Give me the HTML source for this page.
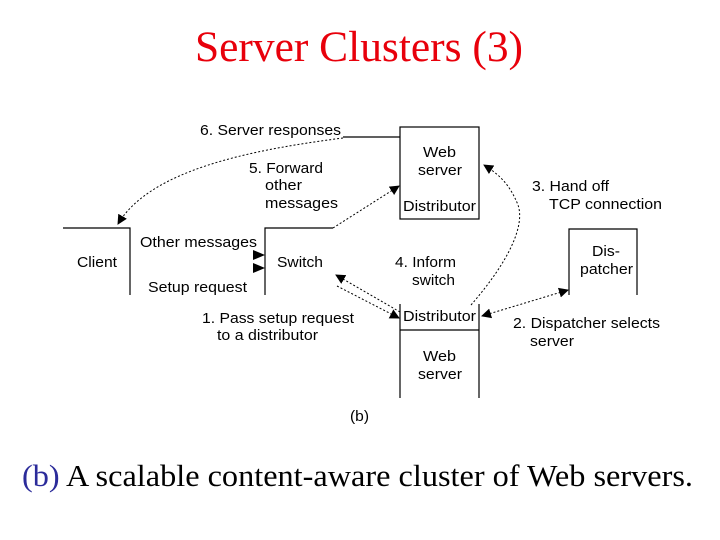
<!DOCTYPE html>
<html><head><style>
body{margin:0;background:#fff;}
svg{display:block}
</style></head><body>
<svg width="720" height="540" xmlns="http://www.w3.org/2000/svg">
<defs>
<marker id="a" markerWidth="10" markerHeight="10" refX="9" refY="5" orient="auto" markerUnits="userSpaceOnUse"><path d="M0,0 L10,5 L0,10 z" fill="#000"/></marker>
<marker id="b" markerWidth="10" markerHeight="10" refX="1" refY="5" orient="auto" markerUnits="userSpaceOnUse"><path d="M10,0 L0,5 L10,10 z" fill="#000"/></marker>
</defs>
<text x="195" y="61" textLength="328" lengthAdjust="spacingAndGlyphs" font-family="Liberation Serif" font-size="43" fill="#e8000b">Server Clusters (3)</text>
<g font-family="Liberation Sans" font-size="15" fill="#000">
<text x="200" y="135" textLength="141" lengthAdjust="spacingAndGlyphs">6. Server responses</text>
<text x="249" y="173" textLength="74" lengthAdjust="spacingAndGlyphs">5. Forward</text>
<text x="265" y="190" textLength="37" lengthAdjust="spacingAndGlyphs">other</text>
<text x="265" y="208" textLength="73" lengthAdjust="spacingAndGlyphs">messages</text>
<text x="140" y="247" textLength="117" lengthAdjust="spacingAndGlyphs">Other messages</text>
<text x="77" y="267" textLength="40" lengthAdjust="spacingAndGlyphs">Client</text>
<text x="277" y="267" textLength="46" lengthAdjust="spacingAndGlyphs">Switch</text>
<text x="148" y="292" textLength="99" lengthAdjust="spacingAndGlyphs">Setup request</text>
<text x="202" y="323" textLength="152" lengthAdjust="spacingAndGlyphs">1. Pass setup request</text>
<text x="217" y="340" textLength="101" lengthAdjust="spacingAndGlyphs">to a distributor</text>
<text x="423" y="157" textLength="33" lengthAdjust="spacingAndGlyphs">Web</text>
<text x="418" y="175" textLength="44" lengthAdjust="spacingAndGlyphs">server</text>
<text x="403" y="211" textLength="73" lengthAdjust="spacingAndGlyphs">Distributor</text>
<text x="532" y="191" textLength="77" lengthAdjust="spacingAndGlyphs">3. Hand off</text>
<text x="549" y="209" textLength="113" lengthAdjust="spacingAndGlyphs">TCP connection</text>
<text x="592" y="256" textLength="28" lengthAdjust="spacingAndGlyphs">Dis-</text>
<text x="580" y="274" textLength="53" lengthAdjust="spacingAndGlyphs">patcher</text>
<text x="395" y="267" textLength="61" lengthAdjust="spacingAndGlyphs">4. Inform</text>
<text x="412" y="285" textLength="43" lengthAdjust="spacingAndGlyphs">switch</text>
<text x="403" y="321" textLength="73" lengthAdjust="spacingAndGlyphs">Distributor</text>
<text x="513" y="328" textLength="147" lengthAdjust="spacingAndGlyphs">2. Dispatcher selects</text>
<text x="530" y="346" textLength="44" lengthAdjust="spacingAndGlyphs">server</text>
<text x="423" y="361" textLength="33" lengthAdjust="spacingAndGlyphs">Web</text>
<text x="418" y="379" textLength="44" lengthAdjust="spacingAndGlyphs">server</text>
<text x="350" y="421" textLength="19" lengthAdjust="spacingAndGlyphs">(b)</text>
</g>
<g stroke="#000" stroke-width="1.2" fill="none">
<path d="M63,228 H130 V295"/>
<path d="M333,228 H265 V295"/>
<rect x="400" y="127" width="79" height="92"/>
<path d="M343,137 H400"/>
<path d="M569,295 V229 H637 V295"/>
<path d="M400,304 V398 M479,304 V398 M400,330 H479"/>
</g>
<g stroke="#000" stroke-width="1" fill="none" stroke-dasharray="2,2">
<path d="M343,138 C250,150 150,170 118,224" marker-end="url(#a)"/>
<path d="M333,228 L399,186" marker-end="url(#a)"/>
<path d="M400,312 L336,275" marker-end="url(#a)"/>
<path d="M337,286 L399,318" marker-end="url(#a)"/>
<path d="M482,316 L568,290" marker-end="url(#a)" marker-start="url(#b)"/>
<path d="M471,305 C510,260 525,225 518,205 C510,185 500,175 484,165" marker-end="url(#a)"/>
</g>
<path d="M253,250 L265,255 L253,260 z M253,263 L265,268 L253,273 z" fill="#000"/>
<text x="22" y="486" textLength="671" lengthAdjust="spacingAndGlyphs" font-family="Liberation Serif" font-size="31" fill="#000"><tspan fill="#2b2b9a">(b)</tspan> A scalable content-aware cluster of Web servers.</text>
</svg>
</body></html>
